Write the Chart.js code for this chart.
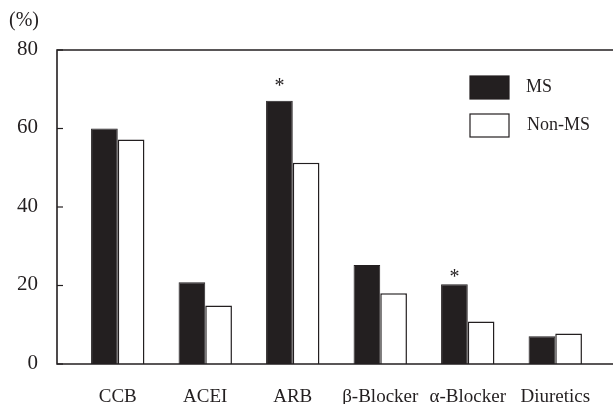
<!DOCTYPE html>
<html>
<head>
<meta charset="utf-8">
<script src="https://cdn.jsdelivr.net/npm/chart.js@4.4.1/dist/chart.umd.min.js"></script>
<style>
  html, body { margin: 0; padding: 0; background: #fff; overflow: hidden; }
  canvas { display: block; }
</style>
</head>
<body>
<canvas id="chart" width="613" height="404"></canvas>
<script>
// Chart data
const categories = ['CCB', 'ACEI', 'ARB', 'β-Blocker', 'α-Blocker', 'Diuretics'];
const msValues = [60, 20.8, 67.1, 25.2, 20.3, 7.1];
const nonMsValues = [57.2, 14.9, 51.3, 18.0, 10.8, 7.8];
const yTicks = [0, 20, 40, 60, 80];
const starred = ['ARB', 'α-Blocker'];   // significant MS bars

const ink = '#231f20';
const serif = '"Liberation Serif", "DejaVu Serif", serif';

// Frame, y ticks, unit label, asterisks and legend
const decorPlugin = {
    id: 'decor',
    afterDatasetsDraw(chart) {
        const ctx = chart.ctx;
        const area = chart.chartArea;
        const y = chart.scales.y;
        const axisX = 57;

        ctx.save();
        ctx.strokeStyle = ink;
        ctx.lineWidth = 1.6;
        ctx.beginPath();
        ctx.moveTo(613, area.top);
        ctx.lineTo(axisX, area.top);
        ctx.lineTo(axisX, area.bottom);
        ctx.lineTo(613, area.bottom);
        ctx.stroke();

        // inward tick marks and labels
        ctx.lineWidth = 1.2;
        ctx.fillStyle = ink;
        ctx.font = '21px ' + serif;
        ctx.textAlign = 'right';
        ctx.textBaseline = 'middle';
        yTicks.forEach(v => {
            const py = y.getPixelForValue(v);
            ctx.beginPath();
            ctx.moveTo(axisX, py);
            ctx.lineTo(axisX + 6, py);
            ctx.stroke();
            ctx.fillText(String(v), 38, py - 1);
        });

        ctx.font = '20px ' + serif;
        ctx.textAlign = 'left';
        ctx.fillText('(%)', 9, 21);

        // asterisks above MS bars
        const meta = chart.getDatasetMeta(0);
        const offsets = { 'ARB': 18, 'α-Blocker': 11 };
        ctx.font = '20px ' + serif;
        ctx.textAlign = 'center';
        starred.forEach(name => {
            const bar = meta.data[categories.indexOf(name)];
            ctx.fillText('*', bar.x, bar.y - offsets[name] + 4);
        });

        // legend
        const items = chart.data.datasets;
        ctx.textAlign = 'left';
        items.forEach((ds, i) => {
            const top = 76 + i * 38;
            ctx.fillStyle = ds.backgroundColor;
            ctx.fillRect(470, top, 39, 23);
            ctx.strokeStyle = ink;
            ctx.lineWidth = 1.2;
            ctx.strokeRect(470, top, 39, 23);
            ctx.fillStyle = ink;
            ctx.font = '18px ' + serif;
            ctx.fillText(ds.label, 526 + i, top + 11);
        });
        ctx.restore();
    }
};

new Chart(document.getElementById('chart').getContext('2d'), {
    type: 'bar',
    data: {
        labels: categories,
        datasets: [{
            label: 'MS',
            data: msValues,
            backgroundColor: ink,
            borderColor: ink,
            borderWidth: 1
        }, {
            label: 'Non-MS',
            data: nonMsValues,
            backgroundColor: '#ffffff',
            borderColor: ink,
            borderWidth: 1.5
        }]
    },
    options: {
        responsive: false,
        animation: false,
        layout: {
            padding: { top: 50, right: 11, left: 0, bottom: 0 }
        },
        datasets: {
            bar: {
                categoryPercentage: 0.61,
                barPercentage: 1
            }
        },
        plugins: {
            legend: { display: false },
            tooltip: { enabled: false }
        },
        scales: {
            x: {
                grid: { display: false, drawTicks: false },
                border: { display: false },
                ticks: {
                    color: ink,
                    padding: 22,
                    maxRotation: 0,
                    font: { family: serif, size: 19 }
                },
                afterFit(scale) { scale.height = 40; }
            },
            y: {
                min: 0,
                max: 80,
                grid: { display: false, drawTicks: false },
                border: { display: false },
                ticks: { display: false },
                afterFit(scale) { scale.width = 74; }
            }
        }
    },
    plugins: [decorPlugin]
});
</script>
</body>
</html>
